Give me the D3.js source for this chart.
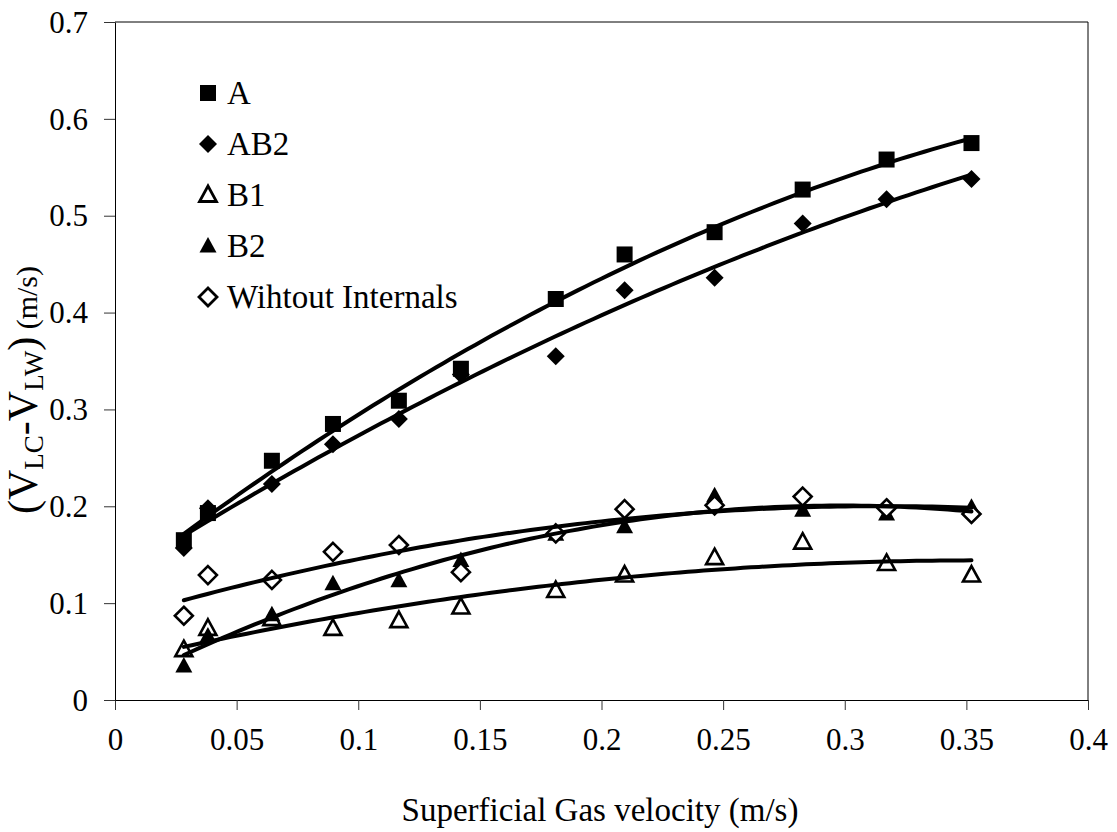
<!DOCTYPE html>
<html>
<head>
<meta charset="utf-8">
<title>Superficial gas velocity chart</title>
<script src="https://cdn.jsdelivr.net/npm/d3@7"></script>
<style>
  body { margin: 0; background: #fff; }
  svg text { font-family: "Liberation Serif", "Times New Roman", serif; fill: #000; }
</style>
</head>
<body>
<script>
// superficial gas velocity (m/s), shared by every series
var ug = [0.0283, 0.0382, 0.0645, 0.0896, 0.1167, 0.1422, 0.1812, 0.2095, 0.2465, 0.2827, 0.3172, 0.3521];

var seriesNames = ["A", "AB2", "B1", "B2", "Wihtout Internals"];
var valsA   = [0.165, 0.193, 0.247, 0.285, 0.309, 0.342, 0.414, 0.460, 0.483, 0.527, 0.558, 0.575];
var valsAB2 = [0.157, 0.198, 0.223, 0.264, 0.290, 0.336, 0.355, 0.423, 0.436, 0.492, 0.517, 0.538];
var valsB1  = [0.052, 0.074, 0.084, 0.074, 0.082, 0.096, 0.113, 0.129, 0.147, 0.163, 0.141, 0.129];
var valsB2  = [0.035, 0.066, 0.088, 0.120, 0.123, 0.144, 0.171, 0.179, 0.211, 0.196, 0.192, 0.199];
var valsWI  = [0.087, 0.129, 0.124, 0.153, 0.160, 0.132, 0.172, 0.197, 0.201, 0.210, 0.198, 0.192];
var allVals = [valsA, valsAB2, valsB1, valsB2, valsWI];
var markers = ["square", "diamond", "triangle", "triangle", "diamond"];
var filled  = [true, true, false, true, false];

var xTicks = [0, 0.05, 0.1, 0.15, 0.2, 0.25, 0.3, 0.35, 0.4];
var yTicks = [0, 0.1, 0.2, 0.3, 0.4, 0.5, 0.6, 0.7];

var W = 1117, H = 832;
var mLeft = 115, mRight = 1088, mTop = 22, mBottom = 700;
var serif = "Liberation Serif, Times New Roman, serif";

var svg = d3.select("body").append("svg").attr("width", W).attr("height", H)
  .attr("font-family", serif);

var x = d3.scaleLinear().domain([0, 0.4]).range([mLeft, mRight]);
var y = d3.scaleLinear().domain([0, 0.7]).range([mBottom, mTop]);

function fmt(d){ return d === 0 ? "0" : String(+d.toFixed(2)); }

// plot box (top and right edges)
svg.append("path")
  .attr("d", "M" + mLeft + "," + mTop + "H" + mRight + "V" + mBottom)
  .attr("fill", "none").attr("stroke", "#000").attr("stroke-width", 1);

var xAxis = svg.append("g").attr("transform", "translate(0," + mBottom + ")")
  .call(d3.axisBottom(x).tickValues(xTicks).tickFormat(fmt).tickSize(10).tickSizeOuter(0));
xAxis.attr("font-family", serif);
xAxis.selectAll("text").attr("font-size", 31).attr("y", 28).attr("dy", "0.71em");

var yAxis = svg.append("g").attr("transform", "translate(" + mLeft + ",0)")
  .call(d3.axisLeft(y).tickValues(yTicks).tickFormat(fmt).tickSize(11).tickSizeOuter(0));
yAxis.attr("font-family", serif);
yAxis.selectAll("text").attr("font-size", 31).attr("x", -27).attr("dy", "0.33em");
svg.selectAll(".domain").attr("stroke", "#000");
svg.selectAll(".tick line").attr("stroke", "#333");

// axis titles
svg.append("text").attr("x", 600).attr("y", 821)
  .attr("text-anchor", "middle").attr("font-size", 33)
  .text("Superficial Gas velocity (m/s)");

var yt = svg.append("text").attr("transform", "translate(37,390) rotate(-90)")
  .attr("text-anchor", "middle").attr("font-size", 42);
yt.append("tspan").text("(V");
yt.append("tspan").attr("font-size", 27).attr("dy", 6).text("LC");
yt.append("tspan").attr("dy", -6).text("-V");
yt.append("tspan").attr("font-size", 27).attr("dy", 6).text("LW");
yt.append("tspan").attr("dy", -6).text(")");
yt.append("tspan").attr("font-size", 30).text(" (m/s)");

function markerPath(type){
  if (type === "square") return "M-8,-8H8V8H-8Z";
  if (type === "diamond") return "M0,-9L9,0L0,9L-9,0Z";
  return "M0,-9L8.5,6.5H-8.5Z";
}

// quadratic least squares trend (like the spreadsheet's polynomial trendline)
function quadFit(xs, ys){
  var s = [0, 0, 0, 0, 0], t = [0, 0, 0];
  xs.forEach(function(xv, i){
    for (var k = 0; k < 5; k++) s[k] += Math.pow(xv, k);
    for (var k2 = 0; k2 < 3; k2++) t[k2] += ys[i] * Math.pow(xv, k2);
  });
  var M = [[s[0], s[1], s[2], t[0]], [s[1], s[2], s[3], t[1]], [s[2], s[3], s[4], t[2]]];
  for (var c = 0; c < 3; c++){
    for (var r = c + 1; r < 3; r++){
      var f = M[r][c] / M[c][c];
      for (var j = c; j < 4; j++) M[r][j] -= f * M[c][j];
    }
  }
  var b = [0, 0, 0];
  for (var r2 = 2; r2 >= 0; r2--){
    var v = M[r2][3];
    for (var j2 = r2 + 1; j2 < 3; j2++) v -= M[r2][j2] * b[j2];
    b[r2] = v / M[r2][r2];
  }
  return function(xv){ return b[0] + b[1] * xv + b[2] * xv * xv; };
}

var line = d3.line().x(function(d){ return x(d[0]); }).y(function(d){ return y(d[1]); });
var xmin = d3.min(ug), xmax = d3.max(ug);
var samples = d3.range(0, 101).map(function(i){ return xmin + (xmax - xmin) * i / 100; });

// markers
allVals.forEach(function(vals, si){
  svg.append("g").selectAll("path")
    .data(vals)
    .enter()
    .append("path")
    .attr("d", markerPath(markers[si]))
    .attr("transform", function(d, i){ return "translate(" + x(ug[i]) + "," + y(d) + ")"; })
    .attr("fill", filled[si] ? "#000" : "#fff")
    .attr("stroke", "#000")
    .attr("stroke-width", filled[si] ? 0 : 2.6);
});

// trend lines
allVals.forEach(function(vals){
  var f = quadFit(ug, vals);
  svg.append("path")
    .datum(samples.map(function(s){ return [s, f(s)]; }))
    .attr("d", line)
    .attr("fill", "none").attr("stroke", "#000").attr("stroke-width", 4)
    .attr("stroke-linecap", "round");
});

// legend
var leg = svg.append("g");
seriesNames.forEach(function(name, i){
  var ly = 93 + i * 51;
  leg.append("path")
    .attr("d", markerPath(markers[i]))
    .attr("transform", "translate(208," + ly + ")")
    .attr("fill", filled[i] ? "#000" : "#fff")
    .attr("stroke", "#000")
    .attr("stroke-width", filled[i] ? 0 : 2.8);
  leg.append("text").attr("x", 227).attr("y", ly + 11)
    .attr("font-size", 33).text(name);
});
</script>
</body>
</html>
